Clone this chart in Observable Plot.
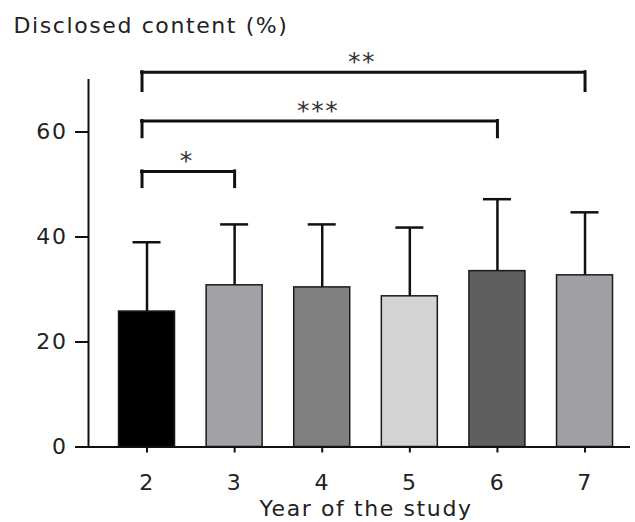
<!DOCTYPE html>
<html>
<head>
<meta charset="utf-8">
<script src="https://cdn.jsdelivr.net/npm/d3@7"></script>
<script src="https://cdn.jsdelivr.net/npm/@observablehq/plot@0.6"></script>
<style>
  html, body { margin: 0; padding: 0; background: #fff; }
  svg text { letter-spacing: 1.6px; }
</style>
</head>
<body>
<div id="chart"></div>
<script>
// ---- data ----
const years = [2, 3, 4, 5, 6, 7];
const means = [25.8, 30.8, 30.4, 28.7, 33.5, 32.7];
const sds   = [13.2, 11.6, 12.0, 13.1, 13.7, 12.0];
const fills = ["#000000", "#a1a1a7", "#808080", "#d3d3d3", "#5f5f5f", "#a0a0a4"];

const bracketFrom   = [2, 2, 2];
const bracketTo     = [3, 6, 7];
const bracketLevel  = [52.5, 62.1, 71.4];
const bracketBottom = [49.5, 59.0, 67.8];
const bracketLabel  = ["*", "***", "**"];

const yTicks = [0, 20, 40, 60];
const yTitle = "Disclosed content (%)";
const xTitle = "Year of the study";

// ---- tables ----
const bars = years.map((year, i) => ({year, mean: means[i], upper: means[i] + sds[i], fill: fills[i]}));
const brackets = bracketFrom.map((from, i) => ({
  from, to: bracketTo[i], level: bracketLevel[i], bottom: bracketBottom[i], label: bracketLabel[i]
}));

const xDomain = [1.332, 7.519];

const chart = Plot.plot({
  width: 635,
  height: 522,
  marginLeft: 88,
  marginRight: 5,
  marginTop: 79,
  marginBottom: 75.5,
  style: {fontFamily: "DejaVu Sans, Verdana, sans-serif", fontSize: "22px", color: "#222", background: "#fff"},
  x: {type: "linear", domain: xDomain},
  y: {domain: [0, 70]},
  marks: [
    // bars
    Plot.rect(bars, {x1: "year", x2: "year", y1: 0, y2: "mean", fill: "fill",
      stroke: "#1a1a1a", strokeWidth: 1.5, insetLeft: -28, insetRight: -28}),
    // error bars
    Plot.ruleX(bars, {x: "year", y1: "mean", y2: "upper", stroke: "#111", strokeWidth: 2.5}),
    Plot.ruleY(bars, {x1: "year", x2: "year", y: "upper", stroke: "#111", strokeWidth: 2.5,
      insetLeft: -14, insetRight: -14}),
    // axes lines
    Plot.ruleY([0], {stroke: "#111", strokeWidth: 2, insetLeft: -13}),
    Plot.ruleX([xDomain[0]], {stroke: "#111", strokeWidth: 2}),
    Plot.axisY({ticks: yTicks, tickSize: 13, tickPadding: 8, label: null, strokeWidth: 2,
      stroke: "#111", fill: "#222", tickFormat: d => String(d)}),
    Plot.axisX({ticks: years, tickSize: 6, tickPadding: 21, label: null, strokeWidth: 2,
      stroke: "#111", fill: "#222", tickFormat: d => String(d)}),
    // significance brackets
    Plot.ruleY(brackets, {x1: "from", x2: "to", y: "level", stroke: "#111", strokeWidth: 3,
      strokeLinecap: "square", insetLeft: -5}),
    Plot.ruleX(brackets, {x: "from", y1: "bottom", y2: "level", stroke: "#111", strokeWidth: 3,
      strokeLinecap: "square", dx: -5}),
    Plot.ruleX(brackets, {x: "to", y1: "bottom", y2: "level", stroke: "#111", strokeWidth: 3,
      strokeLinecap: "square"}),
    Plot.text(brackets, {x: d => (d.from + d.to) / 2, y: "level", text: "label",
      lineAnchor: "bottom", dy: -2, dx: -4, fill: "#333", fontSize: 25}),
    // titles
    Plot.text([yTitle], {frameAnchor: "top-left", text: d => d, textAnchor: "start",
      lineAnchor: "bottom", dx: -75, dy: -47, fill: "#222", fontSize: 22}),
    Plot.text([xTitle], {x: d3.mean(years), frameAnchor: "bottom", text: d => d,
      lineAnchor: "bottom", dy: 69, fill: "#222", fontSize: 22})
  ]
});
document.getElementById("chart").appendChild(chart);
</script>
</body>
</html>
